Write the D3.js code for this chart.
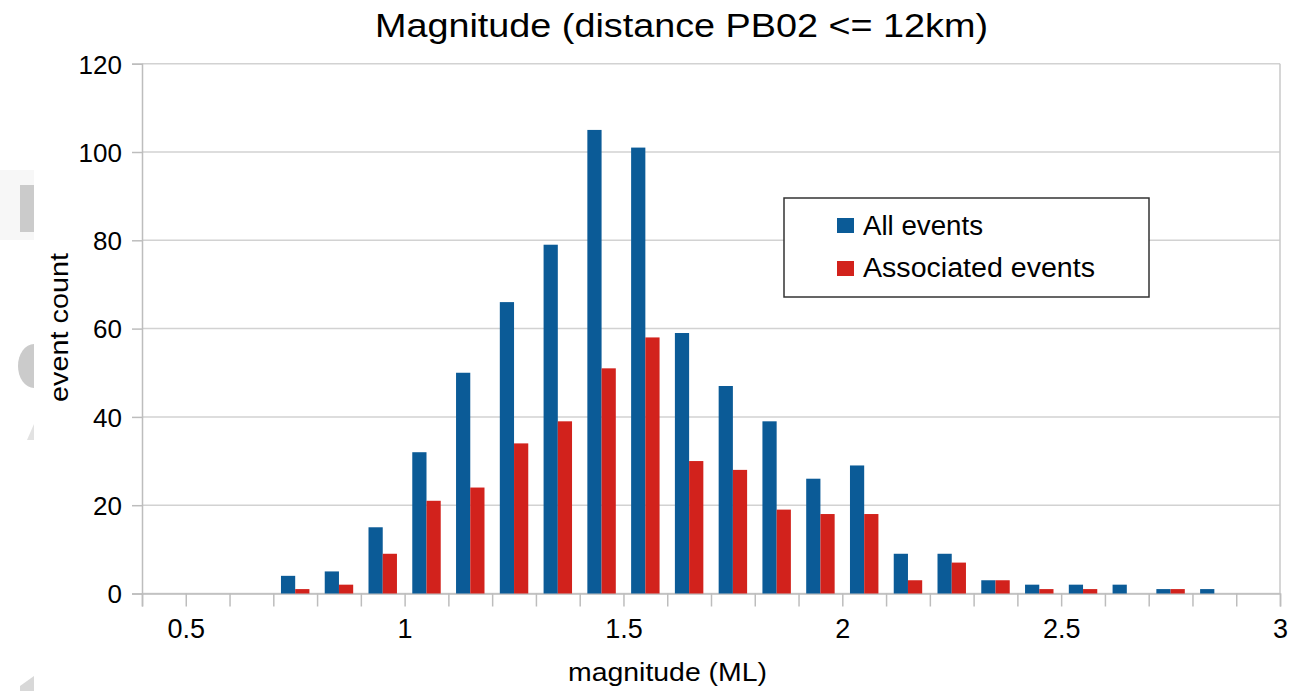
<!DOCTYPE html>
<html>
<head>
<meta charset="utf-8">
<script src="https://cdn.jsdelivr.net/npm/d3@7"></script>
<style>
  body { margin: 0; background: #fff; }
  svg text { font-family: "Liberation Sans", Arial, sans-serif; fill: #000; }
</style>
</head>
<body>
<svg id="chart"></svg>
<script>
// bins of 0.1 in magnitude, lower edge
const binStarts = [0.4, 0.5, 0.6, 0.7, 0.8, 0.9, 1.0, 1.1, 1.2, 1.3, 1.4, 1.5, 1.6,
                   1.7, 1.8, 1.9, 2.0, 2.1, 2.2, 2.3, 2.4, 2.5, 2.6, 2.7, 2.8, 2.9];
const allEvents = [0, 0, 0, 4, 5, 15, 32, 50, 66, 79, 105, 101, 59,
                   47, 39, 26, 29, 9, 9, 3, 2, 2, 2, 1, 1, 0];
const assocEvents = [0, 0, 0, 1, 2, 9, 21, 24, 34, 39, 51, 58, 30,
                     28, 19, 18, 18, 3, 7, 3, 1, 1, 0, 1, 0, 0];
const seriesNames = ['All events', 'Associated events'];
const yTicks = [0, 20, 40, 60, 80, 100, 120];
const xLabels = [0.5, 1, 1.5, 2, 2.5, 3];

const colors = ['#0b5b97', '#d2221c'];
const config = {
    width: 1303,
    height: 691,
    left: 142,
    right: 1280,
    top: 63.7,
    bottom: 593.5
};

// 0) svg
let svg = d3.select('#chart')
    .attr('width', config.width)
    .attr('height', config.height);

// faint leftovers at the left edge of the screenshot
let ghost = svg.append('g').style('fill', '#cbcbcb');
ghost.append('rect').attr('x', 0).attr('y', 170).attr('width', 34).attr('height', 70).style('fill', '#f7f7f7');
ghost.append('rect').attr('x', 20).attr('y', 185).attr('width', 14).attr('height', 47);
ghost.append('ellipse').attr('cx', 34).attr('cy', 366).attr('rx', 16).attr('ry', 22);
ghost.append('path').attr('d', 'M27,440 L34,424 L34,440 Z').style('fill', '#e2e2e2');
ghost.append('path').attr('d', 'M20,686 L34,676 L34,691 L20,691 Z').style('fill', '#d8d8d8');
svg.append('rect').attr('x', 34).attr('y', 0).attr('width', 20).attr('height', config.height).style('fill', '#fff');

// 1) scales
let xScale = d3.scaleLinear()
    .domain([0.4, 3.0])
    .range([config.left, config.right]);

let yScale = d3.scaleLinear()
    .domain([0, 120])
    .range([config.bottom, config.top]);

const binW = xScale(0.5) - xScale(0.4);
const barW = binW * 0.325;

// 2) grid
svg.append('g')
    .selectAll('line')
    .data(yTicks)
    .enter()
    .append('line')
    .attr('x1', config.left)
    .attr('x2', config.right)
    .attr('y1', d => yScale(d))
    .attr('y2', d => yScale(d))
    .style('stroke', '#d2d2d2')
    .style('stroke-width', 1.5);

// right border
svg.append('line')
    .attr('x1', config.right).attr('x2', config.right)
    .attr('y1', config.top).attr('y2', config.bottom)
    .style('stroke', '#c8c8c8')
    .style('stroke-width', 1.5);

// 3) axes
let yAxis = d3.axisLeft(yScale)
    .tickValues(yTicks)
    .tickSize(10)
    .tickPadding(10);
let yG = svg.append('g')
    .attr('transform', `translate(${config.left},0)`)
    .call(yAxis);
yG.select('.domain').style('stroke', '#bdbdbd').style('stroke-width', 1.5);
yG.selectAll('.tick line').style('stroke', '#bdbdbd').style('stroke-width', 1.5);
yG.selectAll('.tick text')
    .style('font-size', '26px')
    .style('font-family', '"Liberation Sans", Arial, sans-serif')
    .attr('dy', '0.36em');

let xAxis = d3.axisBottom(xScale)
    .tickValues(d3.range(0, 27).map(i => 0.4 + i * 0.1))
    .tickSize(13)
    .tickPadding(12)
    .tickFormat(d => {
        const r = Math.round(d * 10) / 10;
        return xLabels.includes(r) ? d3.format('')(r) : '';
    });
let xG = svg.append('g')
    .attr('transform', `translate(0,${config.bottom})`)
    .call(xAxis);
xG.select('.domain').style('stroke', '#bdbdbd').style('stroke-width', 1.5);
xG.selectAll('.tick line').style('stroke', '#bdbdbd').style('stroke-width', 1.5);
xG.selectAll('.tick text')
    .style('font-size', '27px')
    .style('font-family', '"Liberation Sans", Arial, sans-serif');

// 4) bars
const plot_bars = (values, fill_color, offset) => {
    svg.append('g')
        .selectAll('rect')
        .data(values)
        .enter()
        .append('rect')
        .attr('x', (d, i) => xScale(binStarts[i] + 0.05) + offset)
        .attr('width', barW)
        .attr('y', d => yScale(d))
        .attr('height', d => yScale(0) - yScale(d))
        .style('fill', fill_color);
};
plot_bars(allEvents, colors[0], -barW);
plot_bars(assocEvents, colors[1], 0);

// 5) titles
svg.append('text')
    .attr('x', 375)
    .attr('y', 37)
    .attr('textLength', 613)
    .attr('lengthAdjust', 'spacingAndGlyphs')
    .style('font-size', '33px')
    .text('Magnitude (distance PB02 <= 12km)');

svg.append('text')
    .attr('x', 568)
    .attr('y', 681)
    .attr('textLength', 199)
    .attr('lengthAdjust', 'spacingAndGlyphs')
    .style('font-size', '26px')
    .text('magnitude (ML)');

svg.append('text')
    .attr('transform', 'translate(68,402) rotate(-90)')
    .attr('textLength', 149)
    .attr('lengthAdjust', 'spacingAndGlyphs')
    .style('font-size', '26px')
    .text('event count');

// 6) legend
const legendWidths = [120, 232];
let legend = svg.append('g');
legend.append('rect')
    .attr('x', 784).attr('y', 198)
    .attr('width', 365).attr('height', 99)
    .style('fill', '#fff')
    .style('stroke', '#333')
    .style('stroke-width', 1.5);
seriesNames.forEach((name, i) => {
    legend.append('rect')
        .attr('x', 837).attr('y', 218 + i * 43)
        .attr('width', 17).attr('height', 15)
        .style('fill', colors[i]);
    legend.append('text')
        .attr('x', 863).attr('y', 235 + i * 42)
        .attr('textLength', legendWidths[i])
        .attr('lengthAdjust', 'spacingAndGlyphs')
        .style('font-size', '27px')
        .text(name);
});
</script>
</body>
</html>
